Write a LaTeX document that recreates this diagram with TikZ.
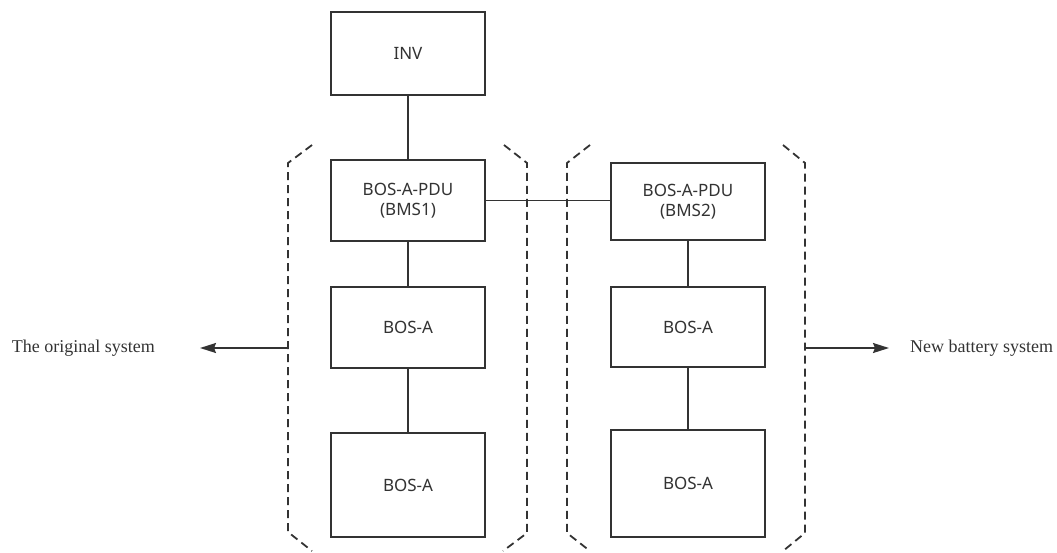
\documentclass[tikz,border=0pt]{standalone}
\usepackage{fontspec}
\setmainfont{Liberation Serif}
\newfontfamily\boxfont{Noto Sans}
\usetikzlibrary{arrows.meta}
\definecolor{linecol}{HTML}{333333}
\definecolor{txtcol}{HTML}{333333}
\begin{document}
\begin{tikzpicture}[x=1pt,y=-1pt,
  blk/.style={draw=linecol,line width=1.8pt,fill=white,inner sep=0pt,
    minimum width=154pt,align=center,text=txtcol,
    font=\boxfont\fontsize{17}{20}\selectfont},
  link/.style={draw=linecol,line width=1.8pt},
  brk/.style={draw=linecol,line width=1.8pt,dash pattern=on 8pt off 5pt},
  outarrow/.style={draw=linecol,line width=1.8pt,-{Stealth[length=16pt,width=10pt,inset=2pt]}},
  lbl/.style={inner sep=0pt,text=txtcol,font=\fontsize{18}{21}\selectfont}]
\useasboundingbox (0,0) rectangle (1057,552);
% boxes
\node[blk,minimum height=83pt] (inv) at (408,53.5) {INV};
\node[blk,minimum height=81pt] (bms1) at (408,200.5) {BOS-A-PDU\\(BMS1)};
\node[blk,minimum height=81pt] (la1) at (408,327.5) {BOS-A};
\node[blk,minimum height=104pt] (la2) at (408,485) {BOS-A};
\node[blk,minimum height=77pt] (bms2) at (688,201.5) {BOS-A-PDU\\(BMS2)};
\node[blk,minimum height=80pt] (ra1) at (688,327) {BOS-A};
\node[blk,minimum height=107pt] (ra2) at (688,483.5) {BOS-A};
% links
\draw[link] (inv) -- (bms1);
\draw[link] (bms1) -- (la1);
\draw[link] (la1) -- (la2);
\draw[link] (bms1.east) -- (bms1.east -| bms2.west);
\draw[link] (bms2) -- (ra1);
\draw[link] (ra1) -- (ra2);
% dashed brackets
\draw[brk] (312,145) -- (288,163) -- (288,532) -- (312,551);
\draw[brk] (504,145) -- (527,163) -- (527,533) -- (503,551);
\draw[brk] (590,145) -- (567,163) -- (567,533) -- (590,551);
\draw[brk] (783,145) -- (805,163) -- (805,533) -- (783,551);
% side arrows and labels
\coordinate (lstart) at (288,348);
\coordinate (rstart) at (805,348);
\node[lbl,anchor=east] (orig) at (155,348) {The original system};
\node[lbl,anchor=west] (newsys) at (910,348) {New battery system};
\draw[outarrow] (lstart) -- (200,348);
\draw[outarrow] (rstart) -- (889,348);
\end{tikzpicture}
\end{document}
